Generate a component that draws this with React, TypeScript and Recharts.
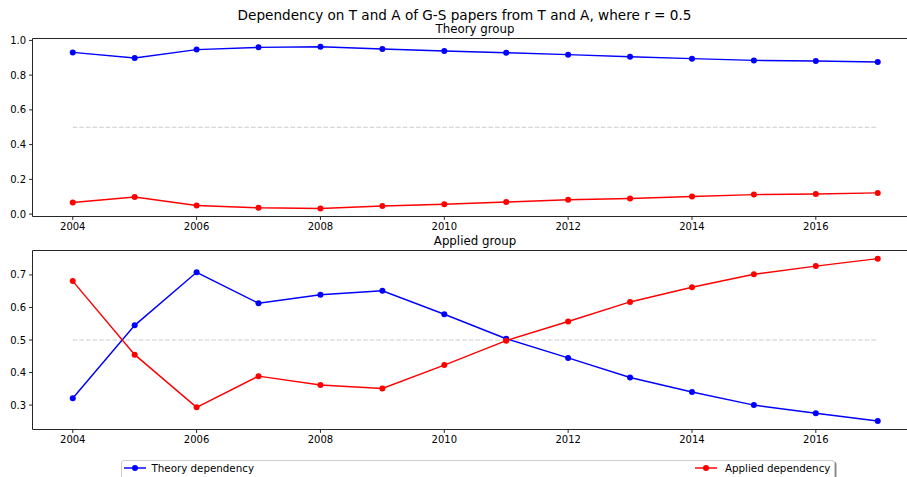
import { LineChart, Line, XAxis, YAxis, ReferenceLine } from 'recharts';

// Years on the x axis
const years = [2004, 2005, 2006, 2007, 2008, 2009, 2010, 2011, 2012, 2013, 2014, 2015, 2016, 2017];

// Theory group
const theoryTop = [0.931, 0.899, 0.947, 0.96, 0.964, 0.95, 0.939, 0.929, 0.918, 0.906, 0.895, 0.885, 0.881, 0.876];
const appliedTop = [0.067, 0.098, 0.049, 0.036, 0.032, 0.046, 0.057, 0.069, 0.082, 0.09, 0.101, 0.112, 0.116, 0.122];

// Applied group
const theoryBottom = [0.321, 0.545, 0.708, 0.613, 0.639, 0.651, 0.579, 0.504, 0.445, 0.385, 0.34, 0.3, 0.275, 0.251];
const appliedBottom = [0.681, 0.455, 0.293, 0.389, 0.362, 0.351, 0.423, 0.498, 0.557, 0.617, 0.662, 0.702, 0.727, 0.75];

const xTicks = [2004, 2006, 2008, 2010, 2012, 2014, 2016];
const topYTicks = [0, 0.2, 0.4, 0.6, 0.8, 1.0];
const bottomYTicks = [0.3, 0.4, 0.5, 0.6, 0.7];
const threshold = 0.5;

const series = [
  { key: 'theory', name: 'Theory dependency', color: '#0000ff' },
  { key: 'applied', name: 'Applied dependency', color: '#ff0000' },
];

const topData = years.map((year, i) => ({ year, theory: theoryTop[i], applied: appliedTop[i] }));
const bottomData = years.map((year, i) => ({ year, theory: theoryBottom[i], applied: appliedBottom[i] }));

const FONT = '"DejaVu Sans", sans-serif';
const SPINE = '#262626';
const tickStyle = { fontSize: 10, fill: '#000', fontFamily: FONT };
const xDomain = [2003.35, 2017.65];

interface PanelProps {
  data: { year: number; theory: number; applied: number }[];
  offset: number;
  height: number;
  top: number;
  yDomain: number[];
  yTicks: number[];
}

const Panel = ({ data, offset, height, top, yDomain, yTicks }: PanelProps) => (
  <div style={{ position: 'absolute', left: 0, top: offset }}>
    <LineChart width={940} height={height} data={data} margin={{ top, right: 22, left: 0, bottom: 0 }}>
      <XAxis
        dataKey="year"
        type="number"
        domain={xDomain}
        ticks={xTicks}
        allowDataOverflow
        height={20.5}
        tickSize={3.4}
        tickMargin={3}
        tick={tickStyle}
        stroke={SPINE}
        strokeWidth={1}
        interval={0}
      />
      <YAxis
        type="number"
        domain={yDomain}
        ticks={yTicks}
        allowDataOverflow
        width={32.5}
        tickSize={3.4}
        tickMargin={3}
        tick={tickStyle}
        tickFormatter={(v: number) => v.toFixed(1)}
        stroke={SPINE}
        strokeWidth={1}
        interval={0}
      />
      {/* top spine */}
      <ReferenceLine y={yDomain[1]} stroke={SPINE} strokeWidth={1} ifOverflow="visible" />
      <ReferenceLine
        segment={[
          { x: years[0], y: threshold },
          { x: years[years.length - 1], y: threshold },
        ]}
        stroke="#cccccc"
        strokeWidth={1.2}
        strokeDasharray="4.6 2"
      />
      {series.map((s) => (
        <Line
          key={s.key}
          dataKey={s.key}
          name={s.name}
          stroke={s.color}
          strokeWidth={1.45}
          dot={{ r: 3, fill: s.color, stroke: s.color, strokeWidth: 0 }}
          isAnimationActive={false}
        />
      ))}
    </LineChart>
  </div>
);

const LegendHandle = ({ color }: { color: string }) => (
  <svg width={22} height={10} style={{ display: 'block' }}>
    <line x1={0} y1={5} x2={22} y2={5} stroke={color} strokeWidth={1.45} />
    <circle cx={11} cy={5} r={3} fill={color} />
  </svg>
);

const legendPos = [
  { handle: 2, text: 30 },
  { handle: 573.5, text: 603.5 },
];

export default function App() {
  return (
    <div
      style={{
        position: 'fixed',
        left: 0,
        top: 0,
        width: 907,
        height: 477,
        overflow: 'hidden',
        background: '#fff',
        fontFamily: FONT,
      }}
    >
      <Panel data={topData} offset={0} height={237} top={38.5} yDomain={[-0.014, 1.011]} yTicks={topYTicks} />
      <Panel data={bottomData} offset={237} height={213} top={13.5} yDomain={[0.225, 0.775]} yTicks={bottomYTicks} />

      <svg width={907} height={477} style={{ position: 'absolute', left: 0, top: 0, pointerEvents: 'none' }}>
        <text x={464.5} y={20} textAnchor="middle" fontSize={13.6} fontFamily={FONT} fill="#000">
          Dependency on T and A of G-S papers from T and A, where r = 0.5
        </text>
        <text x={475} y={32.5} textAnchor="middle" fontSize={11.8} fontFamily={FONT} fill="#000">
          Theory group
        </text>
        <text x={475} y={245} textAnchor="middle" fontSize={11.8} fontFamily={FONT} fill="#000">
          Applied group
        </text>
      </svg>

      <div
        style={{
          position: 'absolute',
          left: 120.5,
          top: 460,
          width: 712,
          height: 30,
          border: '1px solid #cccccc',
          borderRadius: 3,
          background: 'rgba(255,255,255,0.8)',
          boxShadow: '1.5px 1.5px 0 #888',
        }}
      >
        {series.map((s, i) => (
          <div key={s.key}>
            <div style={{ position: 'absolute', left: legendPos[i].handle, top: 2 }}>
              <LegendHandle color={s.color} />
            </div>
            <div
              style={{
                position: 'absolute',
                left: legendPos[i].text,
                top: 0,
                lineHeight: '14px',
                fontSize: 10.3,
                color: '#000',
                whiteSpace: 'nowrap',
              }}
            >
              {s.name}
            </div>
          </div>
        ))}
      </div>
    </div>
  );
}
